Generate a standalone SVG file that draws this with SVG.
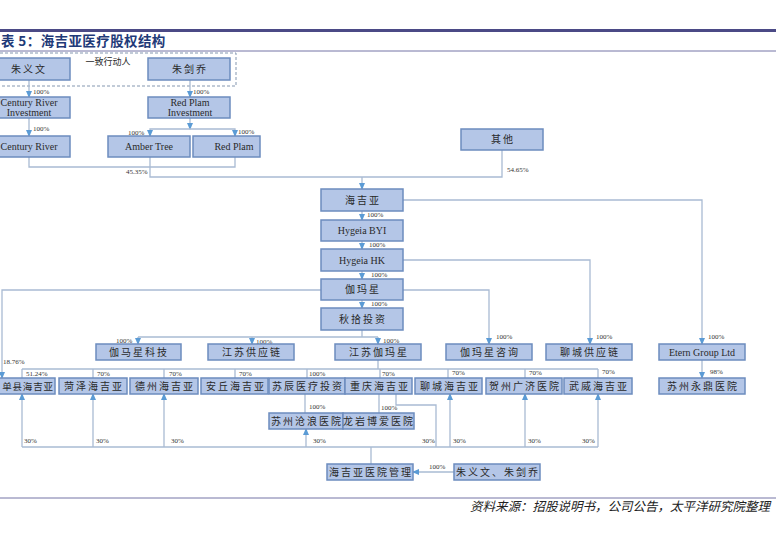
<svg xmlns="http://www.w3.org/2000/svg" width="776" height="538" viewBox="0 0 776 538">
<defs>
<style>
.box{fill:#b4c6e7;stroke:#6c8cbe;stroke-width:1.5}
.t{font-family:"Liberation Serif","Noto Sans CJK SC",serif;font-size:10px;fill:#2a2a2a;text-anchor:middle}
.c{letter-spacing:2px}
.p{font-family:"Liberation Serif",serif;font-size:7px;fill:#333}
.ln{fill:none;stroke:#a9bbd3;stroke-width:1.3}
.ar{fill:none;stroke:#a9bbd3;stroke-width:1.3;marker-end:url(#ah)}
</style>
<marker id="ah" markerUnits="userSpaceOnUse" markerWidth="7" markerHeight="6" refX="6" refY="3" orient="auto">
<path d="M0,0 L7,3 L0,6 z" fill="#5b9bd5"/>
</marker>
</defs>
<rect width="776" height="538" fill="#fff"/>
<line x1="0" y1="30.5" x2="776" y2="30.5" stroke="#4b4a86" stroke-width="3"/>
<text x="1" y="46" font-family="'Noto Sans CJK SC',sans-serif" font-size="13.5" font-weight="700" letter-spacing="0.4" fill="#1f3a78">表 5：海吉亚医疗股权结构</text>
<line x1="0" y1="51" x2="776" y2="51" stroke="#7474a6" stroke-width="1"/>
<line x1="0" y1="498" x2="776" y2="498" stroke="#7474a6" stroke-width="1"/>
<text x="770" y="511" text-anchor="end" font-family="'Noto Sans CJK SC',sans-serif" font-size="12.5" font-style="italic" fill="#222">资料来源：招股说明书，公司公告，太平洋研究院整理</text>
<path d="M0,53 H236 V86 H0" fill="none" stroke="#8497b0" stroke-width="1" stroke-dasharray="3,2"/>
<text x="108" y="65" text-anchor="middle" font-family="'Noto Sans CJK SC',sans-serif" font-size="9" fill="#2a2a2a">一致行动人</text>
<g id="connectors">
<path class="ar" d="M29,80 V97"/>
<path class="ar" d="M29,118 V136"/>
<path class="ar" d="M190,80 V97"/>
<path class="ar" d="M190,118 V129"/>
<path class="ar" d="M190,129 H150 V136"/>
<path class="ar" d="M190,129 H235 V136"/>
<path class="ln" d="M29,157 V167 H235 V157"/>
<path class="ln" d="M150,157 V177 H502 V150"/>
<path class="ar" d="M362,177 V189"/>
<path class="ar" d="M362,211 V220"/>
<path class="ar" d="M362,241 V249"/>
<path class="ar" d="M362,271 V279"/>
<path class="ar" d="M362,300 V308"/>
<path class="ar" d="M403,200 H702 V344"/>
<path class="ar" d="M403,260 H590 V344"/>
<path class="ar" d="M403,290 H489 V344"/>
<path class="ar" d="M321,290 H2 V378"/>
<path class="ln" d="M362,330 V337"/>
<path class="ln" d="M138,337 H378"/>
<path class="ar" d="M138,337 V344"/>
<path class="ar" d="M252,337 V344"/>
<path class="ar" d="M378,337 V344"/>
<path class="ln" d="M22,369 H598"/>
<path class="ln" d="M378,360 V369"/>
<path class="ln" d="M22,369 V378 M93,369 V378 M164,369 V378 M235,369 V378 M307,369 V378 M380,369 V378 M448,369 V378 M525,369 V378 M598,369 V378"/>
<path class="ar" d="M702,360 V378"/>
<path class="ln" d="M305,394 V413"/>
<path class="ln" d="M379,394 V413"/>
<path class="ln" d="M396,394 V405 H436 V447"/>
<path class="ln" d="M22,447 H598"/>
<path class="ar" d="M22,447 V394"/>
<path class="ar" d="M93,447 V394"/>
<path class="ar" d="M164,447 V394"/>
<path class="ar" d="M306,447 V429"/>
<path class="ar" d="M450,447 V394"/>
<path class="ar" d="M525,447 V394"/>
<path class="ar" d="M598,447 V394"/>
<path class="ln" d="M371,464 V447"/>
<path class="ar" d="M454,472 H413"/>
</g>
<g id="labels">
<text class="p" x="33" y="94">100%</text>
<text class="p" x="33" y="131">100%</text>
<text class="p" x="193" y="94">100%</text>
<text class="p" x="128" y="135">100%</text>
<text class="p" x="238" y="134">100%</text>
<text class="p" x="126" y="174">45.35%</text>
<text class="p" x="507" y="172">54.65%</text>
<text class="p" x="367" y="217">100%</text>
<text class="p" x="369" y="247">100%</text>
<text class="p" x="371" y="277">100%</text>
<text class="p" x="371" y="306">100%</text>
<text class="p" x="116" y="343">100%</text>
<text class="p" x="256" y="344">100%</text>
<text class="p" x="383" y="343">100%</text>
<text class="p" x="496" y="339">100%</text>
<text class="p" x="596" y="339">100%</text>
<text class="p" x="708" y="339">100%</text>
<text class="p" x="3" y="364">18.76%</text>
<text class="p" x="26" y="376">51.24%</text>
<text class="p" x="97" y="376">70%</text>
<text class="p" x="169" y="376">70%</text>
<text class="p" x="239" y="376">70%</text>
<text class="p" x="309" y="376">100%</text>
<text class="p" x="382" y="376">70%</text>
<text class="p" x="452" y="375">70%</text>
<text class="p" x="529" y="375">70%</text>
<text class="p" x="602" y="374">70%</text>
<text class="p" x="710" y="374">98%</text>
<text class="p" x="309" y="409">100%</text>
<text class="p" x="381" y="410">100%</text>
<text class="p" x="24" y="443">30%</text>
<text class="p" x="96" y="443">30%</text>
<text class="p" x="171" y="443">30%</text>
<text class="p" x="313" y="443">30%</text>
<text class="p" x="422" y="443">30%</text>
<text class="p" x="453" y="443">30%</text>
<text class="p" x="528" y="443">30%</text>
<text class="p" x="582" y="443">30%</text>
<text class="p" x="429" y="469">100%</text>
</g>
<g id="n-zhuyiwen"><rect class="box" x="-12" y="58" width="82" height="22"/><text class="t c" x="29" y="73">朱义文</text></g>
<g id="n-zhujianqiao"><rect class="box" x="148" y="58" width="82" height="22"/><text class="t c" x="190" y="73">朱剑乔</text></g>
<g id="n-cri"><rect class="box" x="-12" y="97" width="82" height="21"/><text class="t" x="29" y="106">Century River</text><text class="t" x="29" y="116">Investment</text></g>
<g id="n-rpi"><rect class="box" x="148" y="97" width="82" height="21"/><text class="t" x="190" y="106">Red Plam</text><text class="t" x="190" y="116">Investment</text></g>
<g id="n-cr"><rect class="box" x="-12" y="136" width="82" height="21"/><text class="t" x="29" y="150">Century River</text></g>
<g id="n-amber"><rect class="box" x="108" y="136" width="82" height="21"/><text class="t" x="149" y="150">Amber Tree</text></g>
<g id="n-redplam"><rect class="box" x="193" y="136" width="67" height="21"/><text class="t" x="234" y="150">Red Plam</text></g>
<g id="n-other"><rect class="box" x="461" y="129" width="82" height="21"/><text class="t c" x="503" y="143">其他</text></g>
<g id="n-hygeia"><rect class="box" x="321" y="189" width="82" height="22"/><text class="t c" x="363" y="204">海吉亚</text></g>
<g id="n-byi"><rect class="box" x="321" y="220" width="82" height="21"/><text class="t" x="362" y="234">Hygeia BYI</text></g>
<g id="n-hk"><rect class="box" x="321" y="249" width="82" height="22"/><text class="t" x="362" y="264">Hygeia HK</text></g>
<g id="n-gamma"><rect class="box" x="321" y="279" width="82" height="21"/><text class="t c" x="363" y="293">伽玛星</text></g>
<g id="n-qiushi"><rect class="box" x="321" y="308" width="82" height="22"/><text class="t c" x="363" y="323">秋拾投资</text></g>
<g id="n-gmxkj"><rect class="box" x="96" y="344" width="85" height="16"/><text class="t c" x="139" y="356">伽马星科技</text></g>
<g id="n-jsgyl"><rect class="box" x="208" y="344" width="86" height="16"/><text class="t c" x="252" y="356">江苏供应链</text></g>
<g id="n-jsgmx"><rect class="box" x="335" y="344" width="86" height="16"/><text class="t c" x="379" y="356">江苏伽玛星</text></g>
<g id="n-gmxzx"><rect class="box" x="446" y="344" width="86" height="16"/><text class="t c" x="490" y="356">伽玛星咨询</text></g>
<g id="n-lcgyl"><rect class="box" x="546" y="344" width="86" height="16"/><text class="t c" x="590" y="356">聊城供应链</text></g>
<g id="n-etern"><rect class="box" x="659" y="344" width="86" height="16"/><text class="t" x="702" y="356">Etern Group Ltd</text></g>
<g id="n-danxian"><rect class="box" x="-12" y="378" width="67" height="16"/><text class="t" x="28" y="390" style="font-size:9.5px;letter-spacing:0.8px">单县海吉亚</text></g>
<g id="n-heze"><rect class="box" x="59" y="378" width="68" height="16"/><text class="t c" x="94" y="390">菏泽海吉亚</text></g>
<g id="n-dezhou"><rect class="box" x="130" y="378" width="68" height="16"/><text class="t c" x="165" y="390">德州海吉亚</text></g>
<g id="n-anqiu"><rect class="box" x="201" y="378" width="67" height="16"/><text class="t c" x="236" y="390">安丘海吉亚</text></g>
<g id="n-suchen"><rect class="box" x="269" y="378" width="76" height="16"/><text class="t c" x="308" y="390">苏辰医疗投资</text></g>
<g id="n-chongqing"><rect class="box" x="345" y="378" width="67" height="16"/><text class="t c" x="380" y="390">重庆海吉亚</text></g>
<g id="n-liaocheng"><rect class="box" x="415" y="378" width="67" height="16"/><text class="t c" x="450" y="390">聊城海吉亚</text></g>
<g id="n-hezhou"><rect class="box" x="486" y="378" width="76" height="16"/><text class="t c" x="525" y="390">贺州广济医院</text></g>
<g id="n-wuwei"><rect class="box" x="564" y="378" width="68" height="16"/><text class="t c" x="599" y="390">武威海吉亚</text></g>
<g id="n-yongding"><rect class="box" x="659" y="378" width="86" height="16"/><text class="t c" x="703" y="390">苏州永鼎医院</text></g>
<g id="n-canglang"><rect class="box" x="269" y="413" width="74" height="16"/><text class="t c" x="307" y="425">苏州沧浪医院</text></g>
<g id="n-longyan"><rect class="box" x="343" y="413" width="71" height="16"/><text class="t c" x="379" y="425">龙岩博爱医院</text></g>
<g id="n-mgmt"><rect class="box" x="327" y="464" width="86" height="16"/><text class="t c" x="371" y="476">海吉亚医院管理</text></g>
<g id="n-zhus"><rect class="box" x="454" y="464" width="86" height="16"/><text class="t c" x="498" y="476">朱义文、朱剑乔</text></g>
</svg>
